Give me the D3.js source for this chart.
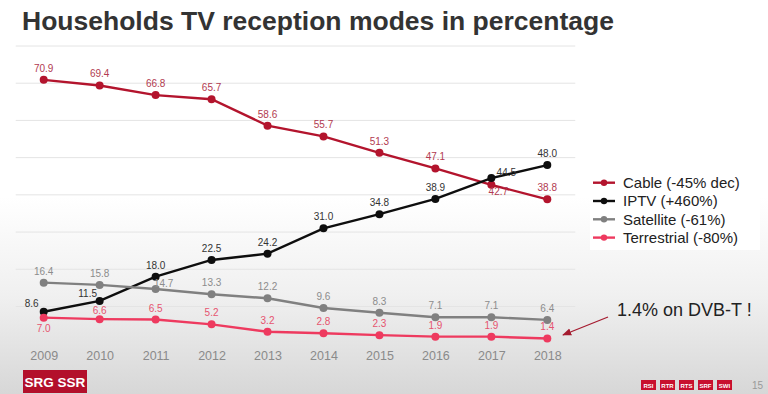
<!DOCTYPE html>
<html>
  <head>
    <meta charset="utf-8">
    <title>Households TV reception modes in percentage</title>
    <style>
      html, body { margin: 0; padding: 0; }
      body { width: 768px; height: 394px; overflow: hidden; font-family: "Liberation Sans", Arial, sans-serif; }
      svg { display: block; }
    </style>
  </head>
  <body>
    <div id="chart"></div>
    <script src="https://cdn.jsdelivr.net/npm/d3@7"></script>
    <script>
      var years = ['2009', '2010', '2011', '2012', '2013', '2014', '2015', '2016', '2017', '2018'];
      var cable = [70.9, 69.4, 66.8, 65.7, 58.6, 55.7, 51.3, 47.1, 42.7, 38.8];
      var iptv = [8.6, 11.5, 18.0, 22.5, 24.2, 31.0, 34.8, 38.9, 44.5, 48.0];
      var satellite = [16.4, 15.8, 14.7, 13.3, 12.2, 9.6, 8.3, 7.1, 7.1, 6.4];
      var terrestrial = [7.0, 6.6, 6.5, 5.2, 3.2, 2.8, 2.3, 1.9, 1.9, 1.4];
      var seriesNames = ['Cable (-45% dec)', 'IPTV (+460%)', 'Satellite (-61%)', 'Terrestrial (-80%)'];
      var yTicks = [10, 20, 30, 40, 50, 60, 70, 80];
      var sisterUnits = ['RSI', 'RTR', 'RTS', 'SRF', 'SWI'];

      (function(d3) {
        'use strict';

        var width = 768;
        var height = 394;

        var series = [
          { name: seriesNames[0], values: cable, line: '#b3142d', text: '#b23a50' },
          { name: seriesNames[1], values: iptv, line: '#0e0e0e', text: '#333333' },
          { name: seriesNames[2], values: satellite, line: '#808080', text: '#8c8c8c' },
          { name: seriesNames[3], values: terrestrial, line: '#ee3a5f', text: '#e6546f' }
        ];

        // label nudges where the default "centred above" would collide
        var nudge = {
          '0-2017': [7, 18],
          '1-2009': [-12, 3],
          '1-2010': [-12, 4],
          '1-2017': [15, 6],
          '2-2011': [8, 6],
          '3-2009': [0, 22],
          '3-2010': [0, 3]
        };

        var svg = d3.select('#chart')
          .append('svg')
          .attr('width', width)
          .attr('height', height);

        var defs = svg.append('defs');
        var grad = defs.append('linearGradient')
          .attr('id', 'bg')
          .attr('x1', 0).attr('y1', 0).attr('x2', 0).attr('y2', 1);
        grad.append('stop').attr('offset', '0%').attr('stop-color', '#ffffff');
        grad.append('stop').attr('offset', '50%').attr('stop-color', '#ffffff');
        grad.append('stop').attr('offset', '75%').attr('stop-color', '#f0f0f0');
        grad.append('stop').attr('offset', '100%').attr('stop-color', '#d7d7d7');

        defs.append('marker')
          .attr('id', 'arrow')
          .attr('viewBox', '0 0 10 10')
          .attr('refX', 9).attr('refY', 5)
          .attr('markerWidth', 7).attr('markerHeight', 7)
          .attr('orient', 'auto')
          .append('path')
          .attr('d', 'M0,1 L10,5 L0,9 Z')
          .attr('fill', '#a51c30');

        svg.append('rect')
          .attr('width', width)
          .attr('height', height)
          .attr('fill', 'url(#bg)');

        svg.append('text')
          .attr('x', 22)
          .attr('y', 30)
          .attr('fill', '#333')
          .style('font-size', '26.5px')
          .style('font-weight', 'bold')
          .text('Households TV reception modes in percentage');

        var x = d3.scalePoint()
          .domain(years)
          .range([43.7, 547.3]);

        var y = d3.scaleLinear()
          .domain([0, 80])
          .range([343.7, 46]);

        var half = x.step() / 2;

        svg.append('g')
          .selectAll('line')
          .data(yTicks)
          .enter()
          .append('line')
          .attr('x1', x(years[0]) - half)
          .attr('x2', x(years[years.length - 1]) + half)
          .attr('y1', function(d) { return y(d); })
          .attr('y2', function(d) { return y(d); })
          .attr('stroke', '#e4e4e4')
          .attr('stroke-width', 1);

        var xAxis = svg.append('g')
          .attr('transform', 'translate(0,' + 349 + ')')
          .call(d3.axisBottom(x).tickSize(0).tickPadding(0));
        xAxis.select('.domain').remove();
        xAxis.selectAll('text')
          .attr('dy', '0.9em')
          .attr('fill', '#8a8a8a')
          .style('font-family', '"Liberation Sans", Arial, sans-serif')
          .style('font-size', '12.5px');

        var line = d3.line()
          .x(function(d, i) { return x(years[i]); })
          .y(function(d) { return y(d); });

        series.forEach(function(s, si) {
          var g = svg.append('g');
          g.append('path')
            .attr('d', line(s.values))
            .attr('fill', 'none')
            .attr('stroke', s.line)
            .attr('stroke-width', 2.4);
          g.selectAll('circle')
            .data(s.values)
            .enter()
            .append('circle')
            .attr('cx', function(d, i) { return x(years[i]); })
            .attr('cy', function(d) { return y(d); })
            .attr('r', 4)
            .attr('fill', s.line);
          g.selectAll('text')
            .data(s.values)
            .enter()
            .append('text')
            .attr('x', function(d, i) {
              var n = nudge[si + '-' + years[i]];
              return x(years[i]) + (n ? n[0] : 0);
            })
            .attr('y', function(d, i) {
              var n = nudge[si + '-' + years[i]];
              return y(d) - 8 + (n ? n[1] : 0);
            })
            .attr('text-anchor', 'middle')
            .attr('fill', s.text)
            .style('font-size', '10px')
            .text(function(d) { return d3.format('.1f')(d); });
        });

        // legend
        var legend = svg.append('g')
          .attr('transform', 'translate(590,173)');
        legend.append('rect')
          .attr('width', 170)
          .attr('height', 77)
          .attr('fill', '#ffffff');
        var item = legend.selectAll('.legend')
          .data(series)
          .enter()
          .append('g')
          .attr('class', 'legend')
          .attr('transform', function(d, i) {
            return 'translate(0,' + (9.7 + i * 18.3) + ')';
          });
        item.append('line')
          .attr('x1', 3).attr('x2', 25)
          .attr('stroke', function(d) { return d.line; })
          .attr('stroke-width', 2.4);
        item.append('circle')
          .attr('cx', 14)
          .attr('r', 3.2)
          .attr('fill', function(d) { return d.line; });
        item.append('text')
          .attr('x', 33)
          .attr('dy', '0.36em')
          .attr('fill', '#222')
          .style('font-size', '15px')
          .text(function(d) { return d.name; });

        // annotation
        svg.append('text')
          .attr('x', 617)
          .attr('y', 315.5)
          .attr('fill', '#222')
          .style('font-size', '18px')
          .text('1.4% on DVB-T !');
        svg.append('line')
          .attr('x1', 608).attr('y1', 317)
          .attr('x2', 563).attr('y2', 335)
          .attr('stroke', '#a51c30')
          .attr('stroke-width', 1.3)
          .attr('marker-end', 'url(#arrow)');

        // footer
        svg.append('rect')
          .attr('x', 23).attr('y', 370)
          .attr('width', 64).attr('height', 23)
          .attr('fill', '#b3102b');
        svg.append('text')
          .attr('x', 55).attr('y', 387)
          .attr('text-anchor', 'middle')
          .attr('fill', '#fff')
          .style('font-size', '13.5px')
          .style('font-weight', 'bold')
          .text('SRG SSR');

        var units = svg.append('g')
          .selectAll('g')
          .data(sisterUnits)
          .enter()
          .append('g')
          .attr('transform', function(d, i) { return 'translate(' + (641 + i * 19) + ',380)'; });
        units.append('rect')
          .attr('width', 15).attr('height', 10)
          .attr('fill', '#c8102e');
        units.append('text')
          .attr('x', 7.5).attr('y', 7.5)
          .attr('text-anchor', 'middle')
          .attr('fill', '#fff')
          .style('font-size', '6px')
          .style('font-weight', 'bold')
          .text(function(d) { return d; });

        svg.append('text')
          .attr('x', 763).attr('y', 389)
          .attr('text-anchor', 'end')
          .attr('fill', '#999')
          .style('font-size', '10px')
          .text('15');
      })(window.d3);
    </script>
  </body>
</html>
